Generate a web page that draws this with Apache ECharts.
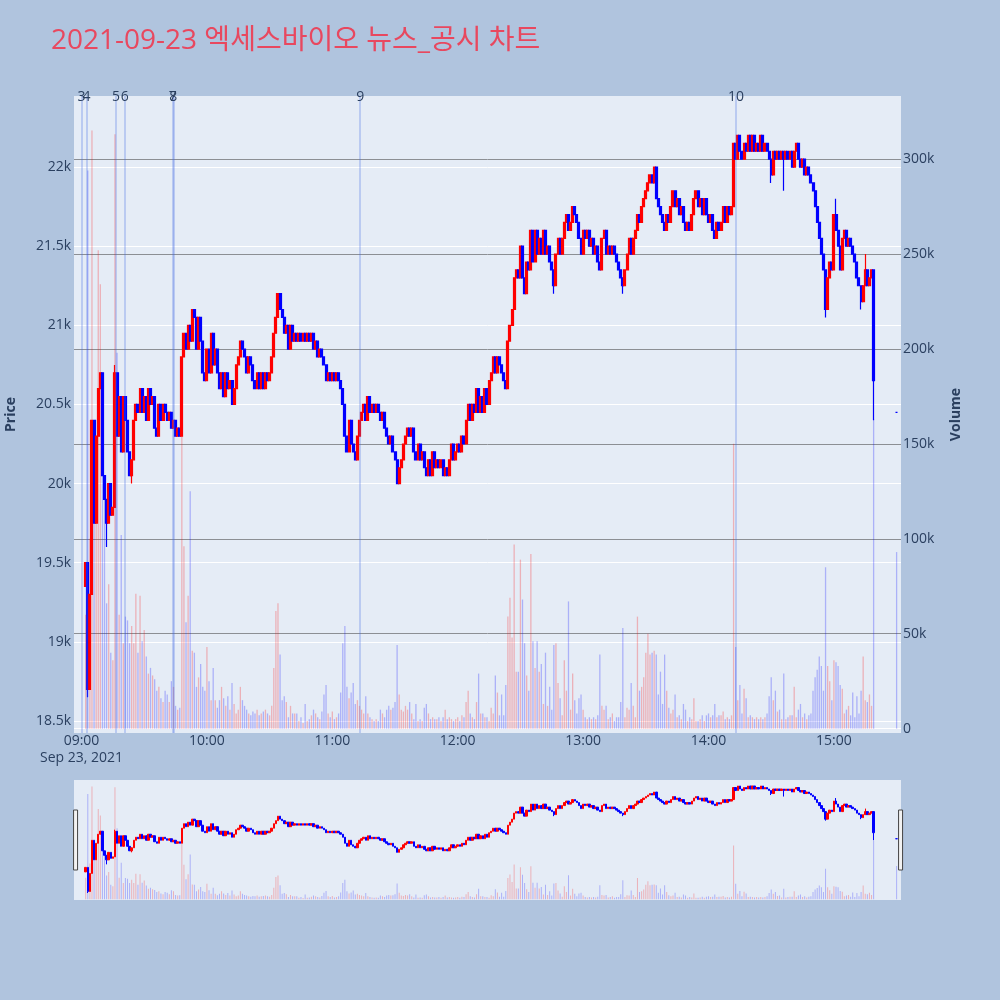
<!DOCTYPE html>
<html>
<head>
<meta charset="utf-8">
<script src="https://cdn.jsdelivr.net/npm/echarts@6/dist/echarts.min.js"></script>
<style>
  html, body { margin: 0; padding: 0; background: #b0c4de; }
  #chart { width: 1000px; height: 1000px; }
</style>
</head>
<body>
<div id="chart"></div>
<script>
// 1분봉: 09:02 부터 15:19 까지 종가 (시가 = 직전 종가)
const firstTime = '09:02';
const firstOpen = 19350;
const closes = [
  19500, 18700, 19300, 20400, 19750, 20300, 20600, 20700, 20050, 19900,
  19750, 20000, 19800, 19850, 20700, 20300, 20550, 20200, 20550, 20400,
  20200, 20050, 20150, 20400, 20500, 20450, 20600, 20450, 20550, 20400,
  20600, 20500, 20550, 20350, 20300, 20500, 20400, 20500, 20450, 20400,
  20450, 20350, 20400, 20300, 20350, 20300, 20800, 20950, 20850, 21000,
  20900, 21100, 21050, 20850, 21050, 20900, 20700, 20650, 20850, 20700,
  20950, 20750, 20850, 20700, 20600, 20700, 20550, 20700, 20600, 20650,
  20500, 20600, 20750, 20800, 20900, 20850, 20800, 20700, 20800, 20750,
  20650, 20600, 20700, 20600, 20700, 20600, 20700, 20650, 20700, 20800,
  20950, 21050, 21200, 21100, 21050, 20950, 21000, 20850, 21000, 20900,
  20950, 20900, 20950, 20900, 20950, 20900, 20950, 20900, 20950, 20850,
  20900, 20800, 20850, 20800, 20750, 20650, 20700, 20650, 20700, 20650,
  20700, 20650, 20600, 20500, 20300, 20200, 20400, 20250, 20200, 20150,
  20300, 20400, 20450, 20500, 20400, 20550, 20450, 20500, 20450, 20500,
  20450, 20400, 20450, 20350, 20300, 20250, 20300, 20200, 20150, 20000,
  20100, 20150, 20250, 20300, 20350, 20300, 20350, 20200, 20150, 20250,
  20150, 20200, 20100, 20050, 20150, 20050, 20200, 20100, 20150, 20100,
  20150, 20050, 20100, 20050, 20150, 20250, 20150, 20200, 20250, 20200,
  20300, 20250, 20400, 20500, 20400, 20500, 20450, 20600, 20450, 20550,
  20450, 20600, 20500, 20650, 20700, 20800, 20700, 20800, 20750, 20700,
  20650, 20600, 20900, 21000, 21100, 21300, 21350, 21300, 21500, 21300,
  21200, 21400, 21350, 21600, 21400, 21600, 21450, 21550, 21450, 21600,
  21450, 21500, 21400, 21350, 21250, 21450, 21550, 21450, 21550, 21650,
  21700, 21600, 21650, 21750, 21700, 21650, 21550, 21450, 21600, 21550,
  21600, 21500, 21550, 21450, 21500, 21400, 21350, 21550, 21600, 21450,
  21500, 21450, 21500, 21450, 21400, 21350, 21300, 21250, 21350, 21450,
  21550, 21450, 21550, 21600, 21700, 21650, 21750, 21800, 21850, 21900,
  21950, 21900, 22000, 21800, 21750, 21700, 21650, 21600, 21700, 21650,
  21750, 21850, 21750, 21800, 21700, 21750, 21650, 21600, 21650, 21600,
  21700, 21800, 21850, 21750, 21800, 21700, 21800, 21700, 21650, 21700,
  21600, 21550, 21650, 21600, 21650, 21750, 21650, 21750, 21700, 21750,
  22150, 22050, 22200, 22100, 22050, 22150, 22100, 22200, 22100, 22200,
  22100, 22150, 22100, 22200, 22100, 22150, 22100, 22050, 21950, 22100,
  22050, 22100, 22050, 22100, 22050, 22100, 22050, 22100, 22000, 22100,
  22150, 22050, 22000, 22050, 21950, 22000, 21950, 21900, 21850, 21750,
  21650, 21550, 21450, 21350, 21100, 21300, 21400, 21350, 21700, 21600,
  21500, 21350, 21550, 21600, 21500, 21550, 21500, 21450, 21400, 21300,
  21250, 21150, 21250, 21350, 21250, 21300, 21350, 20650
];
// 거래량 (천 주)
const volumesK = [
  60, 294, 100, 315, 113, 150, 252, 234, 170, 121,
  66, 76, 40, 36, 313, 198, 60, 102, 45, 59,
  57, 45, 54, 45, 71, 40, 70, 46, 52, 38,
  29, 32, 28, 26, 20, 22, 16, 14, 20, 18,
  14, 25, 22, 12, 10, 11, 154, 96, 56, 70,
  125, 41, 40, 22, 27, 34, 22, 20, 43, 25,
  15, 32, 15, 11, 15, 22, 16, 12, 17, 10,
  24, 13, 8, 10, 22, 15, 12, 10, 8, 7,
  9, 8, 10, 7, 8, 9, 10, 8, 7, 12,
  32, 62, 66, 39, 15, 17, 14, 6, 12, 8,
  8, 8, 4, 6, 3, 13, 4, 5, 7, 10,
  8, 6, 5, 9, 18, 23, 8, 6, 9, 5,
  6, 8, 19, 45, 54, 22, 16, 19, 24, 13,
  15, 12, 10, 8, 17, 8, 6, 5, 4, 5,
  4, 10, 8, 6, 10, 12, 10, 11, 14, 44,
  18, 10, 9, 12, 10, 14, 8, 5, 13, 4,
  5, 4, 11, 13, 8, 5, 6, 5, 5, 6,
  4, 6, 10, 5, 6, 5, 4, 5, 6, 4,
  7, 6, 14, 20, 8, 6, 5, 14, 29, 8,
  8, 6, 6, 4, 11, 8, 28, 19, 7, 18,
  7, 23, 59, 69, 48, 97, 30, 30, 89, 68,
  45, 28, 20, 92, 46, 32, 46, 30, 34, 13,
  40, 12, 22, 10, 44, 45, 24, 16, 7, 36,
  20, 67, 10, 29, 15, 8, 16, 18, 10, 6,
  5, 6, 5, 6, 5, 7, 39, 12, 10, 12,
  5, 6, 8, 4, 6, 6, 14, 53, 6, 11,
  10, 24, 12, 6, 59, 20, 22, 27, 40, 50,
  39, 40, 41, 39, 18, 30, 13, 39, 20, 11,
  8, 10, 18, 6, 7, 5, 13, 10, 4, 6,
  5, 16, 4, 4, 5, 7, 4, 7, 8, 6,
  7, 13, 6, 7, 7, 9, 5, 6, 5, 7,
  150, 43, 15, 23, 8, 21, 16, 6, 7, 6,
  5, 6, 5, 6, 5, 6, 8, 17, 27, 15,
  20, 9, 10, 5, 29, 5, 6, 7, 7, 22,
  6, 10, 13, 6, 8, 5, 7, 8, 20, 27,
  31, 38, 33, 20, 85, 33, 25, 15, 36, 35,
  33, 23, 21, 8, 10, 12, 7, 19, 6, 17,
  8, 20, 38, 15, 14, 18, 12, 163
];
// 꼬리 (몸통 밖으로 나온 고가/저가)
const lowWicks = { '09:03': 18650, '09:12': 19600, '09:24': 20000, '12:46': 21200, '13:19': 21200,
                   '14:30': 21900, '14:36': 21850, '14:56': 21050, '15:13': 21100, '15:19': 20400 };
const highWicks = { '09:16': 20750, '15:01': 21800, '15:15': 21450 };
// 종가 단일가
const auction = { time: '15:30', price: 20450, volumeK: 93 };

// 뉴스/공시 시각
const newsLabels = ['3', '4', '5', '6', '7', '8', '9', '10'];
const newsTimes = ['09:00:00', '09:02:20', '09:16:30', '09:20:40', '09:43:40', '09:43:55', '11:13:20', '14:13:10'];

const hourTicks = ['09:00', '10:00', '11:00', '12:00', '13:00', '14:00', '15:00'];
const priceTicks = [18500, 19000, 19500, 20000, 20500, 21000, 21500, 22000];
const volumeTicks = [0, 50000, 100000, 150000, 200000, 250000, 300000];

const FONT = '"Open Sans", "Noto Sans CJK KR", sans-serif';
const INK = '#2a3f5f';
const UP = '#ff0000', DOWN = '#0000ff';
const UP_VOL = 'rgba(255,0,0,0.25)', DOWN_VOL = 'rgba(0,0,255,0.25)';

function toMin(t) {
  const p = t.split(':').map(Number);
  return (p[0] - 9) * 60 + p[1] + (p[2] || 0) / 60;
}
function fmtMin(v) {
  const h = 9 + Math.floor(v / 60), m = Math.round(v - (h - 9) * 60);
  return String(h).padStart(2, '0') + ':' + String(m).padStart(2, '0');
}

const start = toMin(firstTime);
const candles = [];
const volBars = [];
closes.forEach((c, i) => {
  const x = start + i;
  const o = i === 0 ? firstOpen : closes[i - 1];
  const key = fmtMin(x);
  const lo = Math.min(o, c, lowWicks[key] != null ? lowWicks[key] : Infinity);
  const hi = Math.max(o, c, highWicks[key] != null ? highWicks[key] : -Infinity);
  candles.push([x, o, c, lo, hi]);
  volBars.push({ value: [x, volumesK[i] * 1000], itemStyle: { color: c >= o ? UP_VOL : DOWN_VOL } });
});
{
  const x = toMin(auction.time), p = auction.price;
  const prev = closes[closes.length - 1];
  candles.push([x, p, p, p, p]);
  volBars.push({ value: [x, auction.volumeK * 1000], itemStyle: { color: p >= prev ? UP_VOL : DOWN_VOL } });
}

const X_MIN = -3.6, X_MAX = 392.1;

const chart = echarts.init(document.getElementById('chart'));
chart.setOption({
  animation: false,
  backgroundColor: '#b0c4de',
  textStyle: { fontFamily: FONT },
  title: {
    text: '2021-09-23 엑세스바이오 뉴스_공시 차트',
    left: 46, top: 22,
    textStyle: { fontSize: 28, fontWeight: 'normal', color: '#e8485f', fontFamily: FONT }
  },
  grid: [
    { left: 74, right: 99, top: 96, height: 637, show: true, backgroundColor: '#e5ecf6', borderWidth: 0, containLabel: false, outerBoundsMode: 'none' },
    { left: 74, right: 99, top: 780, height: 120, show: true, backgroundColor: '#e5ecf6', borderWidth: 0, containLabel: false, outerBoundsMode: 'none' }
  ],
  xAxis: [
    {
      type: 'value', gridIndex: 0, min: X_MIN, max: X_MAX,
      axisLine: { show: false },
      axisTick: { show: false, customValues: hourTicks.map(toMin) },
      splitLine: { show: false },
      axisLabel: {
        customValues: hourTicks.map(toMin),
        margin: 0, fontSize: 14, color: INK, lineHeight: 17, fontFamily: FONT,
        formatter: v => v === 0 ? fmtMin(v) + '\nSep 23, 2021' : fmtMin(v)
      }
    },
    { type: 'value', gridIndex: 1, min: X_MIN, max: X_MAX, show: false, splitLine: { show: false } }
  ],
  yAxis: [
    {
      type: 'value', gridIndex: 0, position: 'left', min: 18424, max: 22449, splitNumber: 8,
      axisLine: { show: false },
      axisTick: { show: false, customValues: priceTicks },
      axisLabel: {
        customValues: priceTicks, margin: 3, fontSize: 14, color: INK, fontFamily: FONT,
        formatter: v => (v / 1000) + 'k'
      },
      splitLine: { show: true, lineStyle: { color: '#ffffff', width: 1 } },
      name: 'Price', nameLocation: 'middle', nameGap: 56,
      nameTextStyle: { fontSize: 14, fontWeight: 'bold', color: INK, fontFamily: FONT }
    },
    {
      type: 'value', gridIndex: 0, position: 'right', min: -2300, max: 333200, splitNumber: 7,
      axisLine: { show: false },
      axisTick: { show: false, customValues: volumeTicks },
      axisLabel: {
        customValues: volumeTicks, margin: 2, fontSize: 14, color: INK, fontFamily: FONT,
        formatter: v => v === 0 ? '0' : (v / 1000) + 'k'
      },
      splitLine: { show: true, lineStyle: { color: ['#ffffff', '#8c8f94', '#8c8f94', '#8c8f94', '#8c8f94', '#8c8f94', '#8c8f94'], width: 1 } },
      name: 'Volume', nameLocation: 'middle', nameGap: 48,
      nameTextStyle: { fontSize: 14, fontWeight: 'bold', color: INK, fontFamily: FONT }
    },
    { type: 'value', gridIndex: 1, min: 18418, max: 22399, show: false, splitLine: { show: false } },
    { type: 'value', gridIndex: 1, min: -2300, max: 333200, show: false, splitLine: { show: false } }
  ],
  dataZoom: [{
    type: 'slider', xAxisIndex: [0, 1], filterMode: 'none', start: 0, end: 100,
    left: 74, right: 99, top: 780, height: 120,
    showDetail: false, showDataShadow: false, brushSelect: false, realtime: false,
    backgroundColor: 'rgba(0,0,0,0)', borderColor: 'rgba(0,0,0,0)', fillerColor: 'rgba(0,0,0,0)',
    handleIcon: 'path://M0,0H4V60H0Z', handleSize: '50%',
    handleStyle: { color: '#f2f2f2', borderColor: '#444444', borderWidth: 1 },
    emphasis: { handleStyle: { color: '#f2f2f2', borderColor: '#444444', borderWidth: 1 } },
    moveHandleSize: 0
  }],
  series: [
    {
      type: 'candlestick', xAxisIndex: 0, yAxisIndex: 0, z: 3,
      encode: { x: 0, y: [1, 2, 3, 4] },
      barWidth: 2.5, barMinWidth: 2.5, barMaxWidth: 2.5,
      itemStyle: { color: UP, color0: DOWN, borderColor: UP, borderColor0: DOWN, borderWidth: 1.2 },
      data: candles
    },
    {
      type: 'bar', xAxisIndex: 0, yAxisIndex: 1, z: 4, barWidth: 1.3,
      data: volBars,
      markLine: {
        silent: true, symbol: ['none', 'none'],
        lineStyle: { color: 'rgba(65,105,225,0.35)', width: 1.5, type: 'solid' },
        label: { show: true, position: 'end', distance: -8, color: INK, fontSize: 14, fontFamily: FONT, formatter: '{b}' },
        data: newsTimes.map((t, i) => ({ name: newsLabels[i], xAxis: toMin(t) }))
      }
    },
    {
      type: 'candlestick', xAxisIndex: 1, yAxisIndex: 2, z: 3,
      encode: { x: 0, y: [1, 2, 3, 4] },
      barWidth: 2, barMinWidth: 2, barMaxWidth: 2,
      itemStyle: { color: UP, color0: DOWN, borderColor: UP, borderColor0: DOWN, borderWidth: 1 },
      data: candles
    },
    {
      type: 'bar', xAxisIndex: 1, yAxisIndex: 3, z: 4, barWidth: 1,
      data: volBars
    }
  ]
});
</script>
</body>
</html>
